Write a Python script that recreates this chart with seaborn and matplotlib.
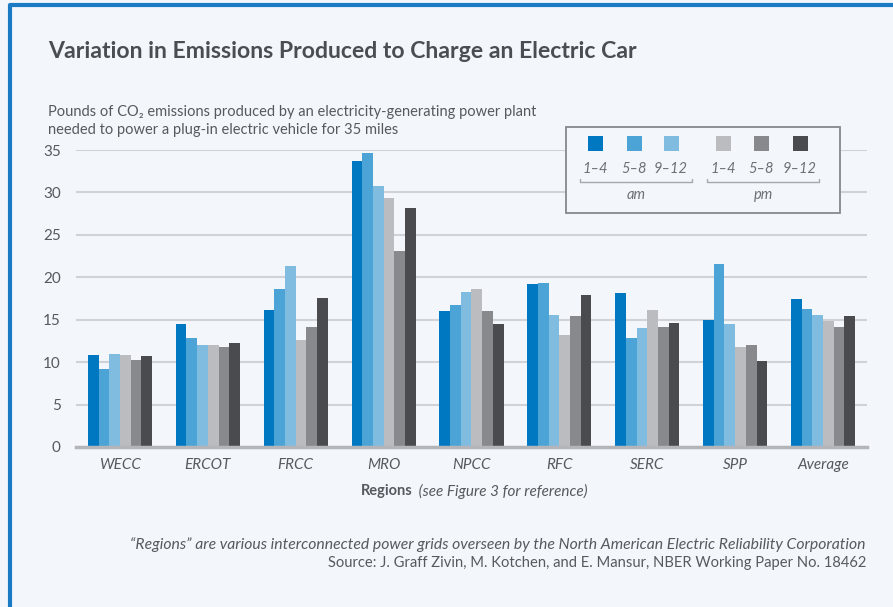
import pandas as pd
import matplotlib.pyplot as plt
import seaborn as sns
from matplotlib.patches import Rectangle
from matplotlib.lines import Line2D

regions = ["WECC", "ERCOT", "FRCC", "MRO", "NPCC", "RFC", "SERC", "SPP", "Average"]
hours = ["am 1–4", "am 5–8", "am 9–12", "pm 1–4", "pm 5–8", "pm 9–12"]
hour_labels = ["1–4", "5–8", "9–12", "1–4", "5–8", "9–12"]
am_1_4 = [10.8, 14.5, 16.1, 33.7, 16.0, 19.2, 18.2, 15.0, 17.5]
am_5_8 = [9.2, 12.9, 18.6, 34.6, 16.7, 19.3, 12.9, 21.6, 16.3]
am_9_12 = [11.0, 12.0, 21.3, 30.7, 18.3, 15.5, 14.0, 14.5, 15.6]
pm_1_4 = [10.8, 12.0, 12.6, 29.3, 18.6, 13.2, 16.2, 11.8, 14.8]
pm_5_8 = [10.3, 11.8, 14.1, 23.1, 16.0, 15.4, 14.2, 12.0, 14.2]
pm_9_12 = [10.7, 12.2, 17.6, 28.2, 14.5, 17.9, 14.6, 10.1, 15.4]
colors = ["#0077c1", "#4ba3d6", "#80bbe0", "#bbbcc0", "#88898d", "#4a4b4e"]

series = [am_1_4, am_5_8, am_9_12, pm_1_4, pm_5_8, pm_9_12]
rows = []
for h, vals in zip(hours, series):
    for r, v in zip(regions, vals):
        rows.append({"region": r, "hour": h, "value": v})
df = pd.DataFrame(rows)

bg = "#f3f7fb"
grey = "#555a60"
sns.set_style("white", {"axes.facecolor": bg, "figure.facecolor": bg})
plt.rcParams["font.family"] = ["Lato", "DejaVu Sans"]

W, H = 893, 607
fig = plt.figure(figsize=(W / 100, H / 100), dpi=100)
ax = fig.add_axes([76 / W, 1 - 447 / H, (867 - 76) / W, (447 - 150) / H])

sns.barplot(data=df, x="region", y="value", hue="hour", hue_order=hours,
            order=regions, palette=colors, width=0.73, linewidth=0,
            saturation=1, ax=ax, legend=False, zorder=3)

ax.set_ylim(0, 35)
ax.set_xlim(-0.5, len(regions) - 0.5)
ax.set_yticks(range(0, 36, 5))
ax.yaxis.grid(True, color="#cfd3d8", linewidth=1.5, zorder=0)
ax.set_axisbelow(True)
for s in ["top", "right", "left"]:
    ax.spines[s].set_visible(False)
ax.spines["bottom"].set_color("#b3b5b9")
ax.spines["bottom"].set_linewidth(2.5)
ax.spines["bottom"].set_zorder(4)
ax.tick_params(axis="both", length=0, labelsize=11, colors=grey)
ax.tick_params(axis="y", pad=11)
ax.tick_params(axis="x", pad=8)
for t in ax.get_xticklabels():
    t.set_fontstyle("italic")
ax.set_xlabel("")
ax.set_ylabel("")

# x-axis title with bold + italic parts
fig.text(413 / W, 1 - 491 / H, "Regions", ha="right", va="center",
         fontsize=10.5, fontweight="bold", color=grey)
fig.text(415 / W, 1 - 491 / H, " (see Figure 3 for reference)", ha="left",
         va="center", fontsize=11, fontstyle="italic", color=grey)

# titles
fig.text(48 / W, 1 - 52 / H, "Variation in Emissions Produced to Charge an Electric Car",
         fontsize=16.6, fontweight="bold", color="#4a4d52", va="center")
fig.text(48 / W, 1 - 112 / H,
         "Pounds of CO₂ emissions produced by an electricity-generating power plant",
         fontsize=10.5, color=grey, va="center")
fig.text(48 / W, 1 - 130 / H, "needed to power a plug-in electric vehicle for 35 miles",
         fontsize=10.5, color=grey, va="center")

# footnotes
fig.text(866 / W, 1 - 545 / H,
         "“Regions” are various interconnected power grids overseen by the North American Electric Reliability Corporation",
         ha="right", va="center", fontsize=11.3, fontstyle="italic", color=grey)
fig.text(866 / W, 1 - 563 / H,
         "Source: J. Graff Zivin, M. Kotchen, and E. Mansur, NBER Working Paper No. 18462",
         ha="right", va="center", fontsize=10.6, color=grey)

# custom legend box
def px(x, y):
    return x / W, 1 - y / H

x0, y0 = px(566, 213)
fig.patches.append(Rectangle((x0, y0), (840 - 566) / W, (213 - 127) / H,
                             transform=fig.transFigure, facecolor=bg,
                             edgecolor="#85888c", linewidth=1.3, zorder=5))
sq_x = [595, 634, 671, 723, 761, 800]
for xc, c, lab in zip(sq_x, colors, hour_labels):
    sx, sy = px(xc - 7.5, 150.5)
    fig.patches.append(Rectangle((sx, sy), 15 / W, 15 / H, transform=fig.transFigure,
                                 facecolor=c, edgecolor="none", zorder=6))
    fig.text(xc / W, 1 - 169 / H, lab, ha="center", va="center", fontsize=10.5,
             fontstyle="italic", color="#6d7075", zorder=6)
for xa, xb, lab in [(580, 692, "am"), (707, 819, "pm")]:
    xs = [xa / W, xa / W, xb / W, xb / W]
    ys = [1 - 179 / H, 1 - 182 / H, 1 - 182 / H, 1 - 179 / H]
    fig.lines.append(Line2D(xs, ys, transform=fig.transFigure, color="#a5a8ac",
                            linewidth=1, zorder=6))
    fig.text((xa + xb) / 2 / W, 1 - 195 / H, lab, ha="center", va="center",
             fontsize=10.5, fontstyle="italic", color="#6d7075", zorder=6)

# blue frame (left and top)
fig.lines.append(Line2D([10 / W, 10 / W, 1], [0, 1 - 5 / H, 1 - 5 / H],
                        transform=fig.transFigure, color="#1a7bc4", linewidth=3))

fig.savefig("out.png", dpi=100, facecolor=bg)
